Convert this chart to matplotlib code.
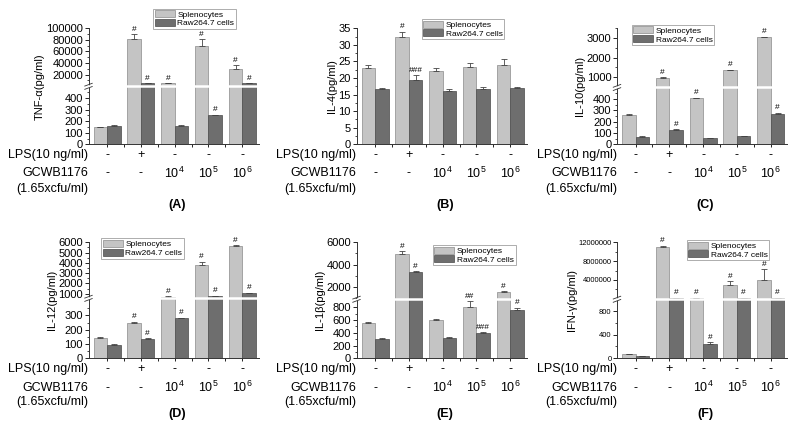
import numpy as np
import matplotlib
matplotlib.use('Agg')
import matplotlib.pyplot as plt
from matplotlib.ticker import FuncFormatter, NullFormatter

plt.rcParams['font.family'] = ['Liberation Sans', 'DejaVu Sans']
plt.rcParams['mathtext.fontset'] = 'custom'
plt.rcParams['mathtext.rm'] = 'Liberation Sans'
plt.rcParams['mathtext.default'] = 'regular'

# ---- data ----
groups = [1, 2, 3, 4, 5]
lps_row = ['-', '+', '-', '-', '-']
gcwb_row = ['-', '-', '10$^4$', '10$^5$', '10$^6$']
series_names = ['Splenocytes', 'Raw264.7 cells']
panel_tags = ['(A)', '(B)', '(C)', '(D)', '(E)', '(F)']
ylabels = ['TNF-α(pg/ml)', 'IL-4(pg/ml)', 'IL-10(pg/ml)',
           'IL-12(pg/ml)', 'IL-1β(pg/ml)', 'IFN-γ(pg/ml)']

tnf_spl = [145, 81700, 5000, 69500, 29500]
tnf_spl_err = [4, 8600, 400, 12000, 7000]
tnf_raw = [160, 5000, 160, 250, 5000]
tnf_raw_err = [3, 300, 3, 6, 300]
tnf_spl_sig = ['', '#', '#', '#', '#']
tnf_raw_sig = ['', '#', '', '#', '#']

il4_spl = [23.0, 32.3, 22.2, 23.4, 23.9]
il4_spl_err = [1.0, 1.7, 0.9, 1.2, 1.7]
il4_raw = [16.6, 19.4, 16.2, 16.7, 17.0]
il4_raw_err = [0.3, 1.4, 0.6, 0.5, 0.3]
il4_spl_sig = ['', '#', '', '', '']
il4_raw_sig = ['', '###', '', '', '']

il10_spl = [258, 980, 405, 1350, 3030]
il10_spl_err = [8, 30, 5, 40, 40]
il10_raw = [65, 125, 56, 74, 269]
il10_raw_err = [4, 8, 3, 3, 10]
il10_spl_sig = ['', '#', '#', '#', '#']
il10_raw_sig = ['', '#', '', '', '#']

il12_spl = [140, 245, 700, 3800, 5600]
il12_spl_err = [6, 10, 40, 300, 100]
il12_raw = [95, 135, 280, 800, 1100]
il12_raw_err = [3, 5, 5, 20, 20]
il12_spl_sig = ['', '#', '#', '#', '#']
il12_raw_sig = ['', '#', '#', '#', '#']

il1b_spl = [560, 4950, 595, 800, 1550]
il1b_spl_err = [15, 250, 15, 90, 60]
il1b_raw = [300, 3350, 320, 390, 750]
il1b_raw_err = [20, 60, 20, 15, 40]
il1b_spl_sig = ['', '#', '', '##', '#']
il1b_raw_sig = ['', '#', '', '###', '#']

ifn_spl = [70, 10900000, 200000, 3000000, 4000000]
ifn_spl_err = [5, 400000, 0, 800000, 2300000]
ifn_raw = [40, 200000, 235, 200000, 200000]
ifn_raw_err = [3, 0, 40, 0, 0]
ifn_spl_sig = ['', '#', '#', '#', '#']
ifn_raw_sig = ['', '#', '#', '#', '#']

spl_vals = [tnf_spl, il4_spl, il10_spl, il12_spl, il1b_spl, ifn_spl]
spl_errs = [tnf_spl_err, il4_spl_err, il10_spl_err, il12_spl_err, il1b_spl_err, ifn_spl_err]
raw_vals = [tnf_raw, il4_raw, il10_raw, il12_raw, il1b_raw, ifn_raw]
raw_errs = [tnf_raw_err, il4_raw_err, il10_raw_err, il12_raw_err, il1b_raw_err, ifn_raw_err]
spl_sigs = [tnf_spl_sig, il4_spl_sig, il10_spl_sig, il12_spl_sig, il1b_spl_sig, ifn_spl_sig]
raw_sigs = [tnf_raw_sig, il4_raw_sig, il10_raw_sig, il12_raw_sig, il1b_raw_sig, ifn_raw_sig]

# axis breaks: (lower top, upper start, lower fraction, axis top); None = no break
breaks = [(500, 500, 0.50, 100000), None, (500, 500, 0.49, 3500),
          (420, 600, 0.517, 6000), (925, 925, 0.509, 6000), (1000, 1000, 0.509, 12000000)]
ymax_plain = 35
major_ticks = [[0, 100, 200, 300, 400, 20000, 40000, 60000, 80000, 100000],
               [0, 5, 10, 15, 20, 25, 30, 35],
               [0, 100, 200, 300, 400, 1000, 2000, 3000],
               [0, 100, 200, 300, 1000, 2000, 3000, 4000, 5000, 6000],
               [0, 200, 400, 600, 800, 2000, 4000, 6000],
               [0, 400, 800, 4000000, 8000000, 12000000]]
minor_ticks = [[50, 150, 250, 350, 450, 10000, 30000, 50000, 70000, 90000],
               [2.5, 7.5, 12.5, 17.5, 22.5, 27.5, 32.5],
               [50, 150, 250, 350, 450, 1500, 2500, 3500],
               [50, 150, 250, 350, 1500, 2500, 3500, 4500, 5500],
               [100, 300, 500, 700, 1000, 3000, 5000],
               [200, 600, 2000000, 6000000, 10000000]]
tick_fs = [8, 8, 8, 8, 8, 5.5]
legend_anchor = [(0.38, 1.17), (0.384, 1.08), (0.086, 1.03),
                 (0.075, 1.034), (0.449, 0.977), (0.41, 1.02)]

spl_color = '#c4c4c4'
raw_color = '#6e6e6e'

W, H = 798, 428
fig = plt.figure(figsize=(W / 100, H / 100), dpi=100)
col_left = [88.5, 356.5, 617]
row_bottom = [144.3, 358.3]
ax_w, ax_h = 170, 116
row_offsets = [[10.7, 29, 44.7, 60.7], [11, 29.4, 44, 55.7]]


def make_scale(l1, l2, frac, top):
    eps = 0.004
    if l2 <= l1:
        l2 = l1 * 1.0001
    xp = [-l1, 0, l1, l2, top, 2 * top - l2]
    fp = [-frac, 0, frac, frac + eps, 1, 2 - (frac + eps)]

    def fwd(y):
        return np.interp(y, xp, fp)

    def inv(t):
        return np.interp(t, fp, xp)
    return fwd, inv


def plain(v, pos):
    return '%g' % v if v < 100 else '%d' % int(round(v))


for i in range(6):
    r, c = divmod(i, 3)
    ax = fig.add_axes([col_left[c] / W, (H - row_bottom[r]) / H, ax_w / W, ax_h / H])
    x = np.array(groups)
    ax.bar(x - 0.2, spl_vals[i], 0.4, color=spl_color, edgecolor='#8a8a8a', linewidth=0.5,
           label=series_names[0], zorder=1)
    ax.bar(x + 0.2, raw_vals[i], 0.4, color=raw_color, edgecolor='#4a4a4a', linewidth=0.5,
           label=series_names[1], zorder=1)
    for dx, vals, errs in [(-0.2, spl_vals[i], spl_errs[i]), (0.2, raw_vals[i], raw_errs[i])]:
        ax.errorbar(x + dx, vals, yerr=[np.zeros(5), errs], fmt='none', ecolor='#444444',
                    elinewidth=0.6, capsize=2, capthick=0.6, zorder=2)

    if breaks[i] is not None:
        l1, l2, frac, top = breaks[i]
        fwd, inv = make_scale(l1, l2, frac, top)
        ax.set_yscale('function', functions=(fwd, inv))
        ax.set_ylim(0, top)
        ax.axhline(l1, color='white', lw=1.8, zorder=3)
        for dy in (0.014, -0.014):
            ax.plot([-0.022, 0.022], [frac + dy - 0.012, frac + dy + 0.012],
                    transform=ax.transAxes, color='#333333', lw=0.6, clip_on=False, zorder=4)
    else:
        ax.set_ylim(0, ymax_plain)

    # significance marks
    for dx, vals, errs, sigs in [(-0.2, spl_vals[i], spl_errs[i], spl_sigs[i]),
                                 (0.2, raw_vals[i], raw_errs[i], raw_sigs[i])]:
        for xi, v, e, s in zip(x, vals, errs, sigs):
            if s:
                ax.annotate(s, (xi + dx, v + e), xytext=(0, 1), textcoords='offset points',
                            ha='center', va='bottom', fontsize=6, zorder=5)

    ax.set_xlim(0.45, 5.48)
    ax.set_xticks(groups)
    ax.set_xticklabels([])
    ax.set_xticks([1.5, 2.5, 3.5, 4.5], minor=True)
    ax.set_yticks(major_ticks[i])
    ax.set_yticks(minor_ticks[i], minor=True)
    ax.yaxis.set_major_formatter(FuncFormatter(plain))
    ax.yaxis.set_minor_formatter(NullFormatter())
    ax.tick_params(axis='y', which='major', direction='out', length=3, width=0.6,
                   labelsize=tick_fs[i], pad=1)
    ax.tick_params(axis='y', which='minor', direction='out', length=1.5, width=0.5)
    ax.tick_params(axis='x', which='both', direction='out', length=2.5, width=0.6)
    ax.set_ylabel(ylabels[i], fontsize=8, labelpad=1)
    for side in ('top', 'right'):
        ax.spines[side].set_visible(False)
    for side in ('left', 'bottom'):
        ax.spines[side].set_linewidth(0.7)
        ax.spines[side].set_color('#333333')

    leg = ax.legend(loc='upper left', bbox_to_anchor=legend_anchor[i], fontsize=6,
                    frameon=True, fancybox=False, edgecolor='#888888', borderpad=0.2,
                    labelspacing=0.05, handlelength=2.4, handleheight=0.9,
                    handletextpad=0.3, borderaxespad=0)
    leg.get_frame().set_linewidth(0.6)
    leg.set_zorder(6)

    # treatment rows below each panel
    offs = [o / ax_h for o in row_offsets[r]]
    tx = ax.get_xaxis_transform()
    ax.text(0, -offs[0], 'LPS(10 ng/ml)', transform=ax.transAxes, ha='right', va='center', fontsize=9)
    ax.text(0, -offs[1], 'GCWB1176', transform=ax.transAxes, ha='right', va='center', fontsize=9)
    ax.text(0, -offs[2], '(1.65xcfu/ml)', transform=ax.transAxes, ha='right', va='center', fontsize=9)
    for xi, a, b in zip(x, lps_row, gcwb_row):
        ax.text(xi, -offs[0], a, transform=tx, ha='center', va='center', fontsize=9)
        ax.text(xi, -offs[1], b, transform=tx, ha='center', va='center', fontsize=9)
    ax.text(0.52, -offs[3], panel_tags[i], transform=ax.transAxes, ha='center', va='center',
            fontsize=9, fontweight='bold')

fig.savefig('out.png', dpi=100)
